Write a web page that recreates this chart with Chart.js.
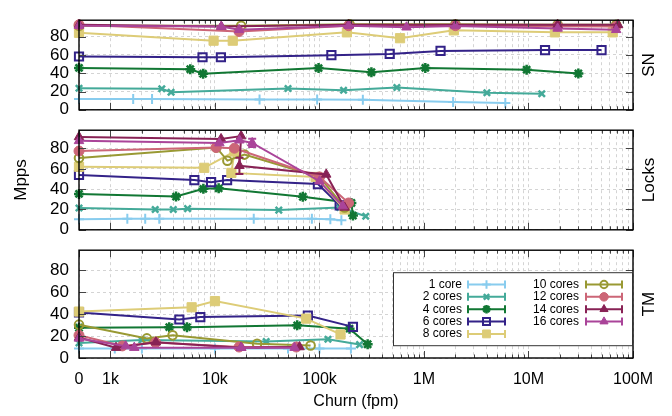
<!DOCTYPE html>
<html>
<head>
<meta charset="utf-8">
<title>Mpps vs churn</title>
<script src="https://cdn.jsdelivr.net/npm/chart.js@4.4.1/dist/chart.umd.min.js"></script>
<style>
  body { margin: 0; background: #fff; }
  #page { position: relative; width: 672px; height: 416px; overflow: hidden; }
  #page canvas { position: absolute; left: 0; }
</style>
</head>
<body>
<div id="page">
  <canvas id="snChart" width="672" height="130" style="top:0px"></canvas>
  <canvas id="locksChart" width="672" height="140" style="top:110px"></canvas>
  <canvas id="tmChart" width="672" height="186" style="top:230px"></canvas>
</div>
<script>
// ---- data ----
const seriesLabels = ['1 core', '2 cores', '4 cores', '6 cores', '8 cores', '10 cores', '12 cores', '14 cores', '16 cores'];

const xTickValues = [0, 1e3, 1e4, 1e5, 1e6, 1e7, 1e8];
const xTickLabels = ['0', '1k', '10k', '100k', '1M', '10M', '100M'];
const yTickValues = [0, 20, 40, 60, 80];

// SN panel (churn in fpm, throughput in Mpps)
const snChurn1 = [0, 1650, 2500, 26700, 95000, 260000, 1900000, 6000000];
const snMpps1 = [11.7, 11.7, 11.7, 11.2, 11.2, 11.0, 8.4, 7.5];
const snChurn2 = [0, 3100, 3800, 50000, 170000, 550000, 4000000, 13400000];
const snMpps2 = [23.6, 23, 19.2, 23.3, 21.4, 24.4, 18.6, 17.5];
const snChurn4 = [0, 5800, 7700, 98000, 314000, 1030000, 9600000, 30000000];
const snMpps4 = [45.8, 44.4, 39.4, 45.6, 41.1, 45.8, 43.9, 39.7];
const snChurn6 = [0, 7600, 11400, 130000, 470000, 1440000, 14400000, 50000000];
const snMpps6 = [58.3, 57.5, 57.5, 59.7, 61.1, 64.4, 65.3, 65.3];
const snChurn8 = [0, 9700, 14800, 183000, 590000, 1930000, 17900000, 64000000];
const snMpps8 = [84.2, 75.6, 75.6, 84.7, 78.3, 86.9, 84.7, 84.7];
const snChurn10 = [0, 17800, 194000, 2000000, 19000000, 69000000];
const snMpps10 = [92, 92, 93.5, 93.5, 93, 93];
const snChurn12 = [0, 17000, 190000, 2000000, 19000000, 69000000];
const snMpps12 = [93, 85.6, 92, 92, 91.5, 91];
const snChurn14 = [0, 11500, 190000, 2000000, 19000000, 72000000];
const snMpps14 = [93, 91, 93, 93, 93, 93];
const snChurn16 = [0, 11500, 17000, 190000, 680000, 2000000, 19000000, 69000000];
const snMpps16 = [92, 91, 87.5, 92, 90.3, 91.7, 89, 87.5];

// Locks panel
const lkChurn1 = [0, 1450, 2150, 2930, 23500, 84600, 127000, 162000];
const lkMpps1 = [10.3, 10.8, 10.8, 10.8, 10.8, 10.8, 10.3, 9.4];
const lkChurn2 = [0, 2680, 3990, 5470, 40800, 156000, 277000];
const lkMpps2 = [21.4, 20, 20, 20.8, 19.4, 21.9, 13.3];
const lkChurn4 = [0, 4240, 7740, 10850, 69300, 202000, 209000];
const lkMpps4 = [35.3, 32.7, 40.3, 40.8, 32.5, 26.4, 14];
const lkChurn6 = [0, 6350, 9180, 13060, 96600, 156000];
const lkMpps6 = [53.9, 48.9, 46.9, 48.9, 45, 24];
const lkChurn8 = [0, 7900, 15350, 14360, 91800, 174000];
const lkMpps8 = [62, 61, 77, 56, 52, 20];
const lkChurn10 = [0, 10300, 13150, 19140, 100000, 174000];
const lkMpps10 = [70.6, 81, 68, 74, 52, 22];
const lkChurn12 = [0, 10250, 15350, 100000, 190000];
const lkMpps12 = [77.5, 81, 80.3, 52, 26.4];
const lkChurn14 = [0, 11440, 17800, 17140, 116000, 174000];
const lkMpps14 = [91.4, 89.4, 92.2, 63, 54.5, 22];
const lkErr14 = [0, 0, 0, 8, 0, 0];
const lkChurn16 = [0, 11020, 17140, 22700, 100000, 167000];
const lkMpps16 = [87.5, 85.3, 88.1, 85.5, 47.8, 23.3];
const lkErr16 = [0, 0, 0, 4, 0, 0];

// TM panel
const tmChurn1 = [0, 1100, 2000, 10000, 50000, 100000, 200000];
const tmMpps1 = [8.6, 8.6, 8.6, 8.6, 8.6, 8.6, 8.6];
const tmChurn2 = [0, 2000, 30900, 120500, 242000];
const tmMpps2 = [13.6, 16.4, 15, 17, 12.2];
const tmChurn4 = [0, 3650, 5400, 61200, 194000, 289000];
const tmMpps4 = [27.5, 28, 28, 29.7, 26.7, 12.5];
const tmChurn6 = [0, 4560, 7240, 77400, 209000];
const tmMpps6 = [41.4, 35, 37.2, 38.6, 28.3];
const tmChurn8 = [0, 5980, 10000, 74700, 159000];
const tmMpps8 = [42.2, 46.1, 51.7, 35.8, 21.4];
const tmChurn10 = [0, 2230, 3930, 25300, 82200];
const tmMpps10 = [30.3, 17.8, 20.6, 13, 11.4];
const tmChurn12 = [0, 1300, 2700, 17000, 60000];
const tmMpps12 = [20.6, 11, 14, 10, 10];
const tmChurn14 = [0, 1130, 2720, 17800, 64500];
const tmMpps14 = [18.6, 9.4, 14.4, 9.4, 10];
const tmChurn16 = [0, 1400, 1690, 17800, 57700];
const tmMpps16 = [17.8, 10.8, 9.4, 9.4, 9.4];

// ---- styling ----
const ZERO_AT = 500; // the "0" churn column sits here on the log axis
const seriesColors = ['#88CCEE', '#44AA99', '#117733', '#332288', '#DDCC77', '#999933', '#CC6677', '#882255', '#AA4499'];
const seriesFills = ['#88CCEE', '#44AA99', '#117733', 'rgba(0,0,0,0)', '#DDCC77', 'rgba(0,0,0,0)', '#CC6677', '#882255', '#AA4499'];
const seriesMarkers = ['cross', 'crossRot', 'star', 'rect', 'rect', 'circle', 'circle', 'triangle', 'triangle'];
const markerRadius = [5, 4.5, 5, 5.8, 6.5, 4.3, 5, 5.5, 5.5];
const markerBorder = [2, 2.5, 2.5, 2, 1, 2, 1, 1, 1];

const fontFamily = '"Liberation Sans", Arial, Helvetica, sans-serif';
Chart.defaults.font.family = fontFamily;
Chart.defaults.color = '#000';

const xTickPositions = xTickValues.map(v => v === 0 ? ZERO_AT : v);
const xGridValues = [ZERO_AT];
for (let d = 1e3; d < 1e8; d *= 10) {
  for (let m = 1; m < 10; m++) xGridValues.push(m * d);
}
xGridValues.push(1e8);

function makeSets(churns, mpps, errs) {
  return seriesLabels.map((label, i) => ({
    label: label,
    data: churns[i].map((c, j) => ({ x: c === 0 ? ZERO_AT : c, y: mpps[i][j] })),
    errors: errs[i] || null,
    borderColor: seriesColors[i],
    backgroundColor: seriesFills[i],
    pointStyle: seriesMarkers[i],
    pointRadius: markerRadius[i],
    pointBorderWidth: markerBorder[i],
    borderWidth: 2,
    tension: 0,
    clip: false,
    order: -i
  }));
}

function drawErrorBars(chart) {
  const ctx = chart.ctx;
  const yScale = chart.scales.y;
  chart.data.datasets.forEach((ds, i) => {
    if (!ds.errors) return;
    const meta = chart.getDatasetMeta(i);
    ctx.save();
    ctx.strokeStyle = ds.borderColor;
    ctx.lineWidth = 2;
    ds.errors.forEach((e, j) => {
      if (!e) return;
      const px = meta.data[j].x;
      const y1 = yScale.getPixelForValue(ds.data[j].y + e);
      const y2 = yScale.getPixelForValue(ds.data[j].y - e);
      ctx.beginPath();
      ctx.moveTo(px, y1); ctx.lineTo(px, y2);
      ctx.moveTo(px - 4, y1); ctx.lineTo(px + 4, y1);
      ctx.moveTo(px - 4, y2); ctx.lineTo(px + 4, y2);
      ctx.stroke();
    });
    ctx.restore();
  });
}

function drawMarker(ctx, ds, x, y) {
  ctx.fillStyle = ds.backgroundColor;
  ctx.strokeStyle = ds.borderColor;
  ctx.lineWidth = ds.pointBorderWidth;
  Chart.helpers.drawPoint(ctx, {
    pointStyle: ds.pointStyle,
    radius: ds.pointRadius * 0.85,
    rotation: 0,
    borderWidth: ds.pointBorderWidth
  }, x, y);
}

function drawLegend(chart) {
  const ctx = chart.ctx;
  const area = chart.chartArea;
  const box = { left: 393, top: area.top + 22, right: area.right - 1, bottom: area.top + 95 };
  ctx.save();
  ctx.fillStyle = '#fff';
  ctx.fillRect(box.left, box.top, box.right - box.left, box.bottom - box.top);
  ctx.strokeStyle = '#333';
  ctx.lineWidth = 1;
  ctx.strokeRect(box.left + 0.5, box.top + 0.5, box.right - box.left, box.bottom - box.top);
  ctx.font = '12px ' + fontFamily;
  ctx.textAlign = 'right';
  ctx.textBaseline = 'middle';
  chart.data.datasets.forEach((ds, i) => {
    const col = i < 5 ? 0 : 1;
    const row = col ? i - 5 : i;
    const y = box.top + 12.3 + row * 12.35;
    const textRight = col ? 579 : 462;
    const s1 = col ? 586 : 468;
    const s2 = col ? 622 : 505;
    ctx.fillStyle = '#000';
    ctx.fillText(ds.label, textRight, y);
    ctx.strokeStyle = ds.borderColor;
    ctx.lineWidth = 2;
    ctx.beginPath();
    ctx.moveTo(s1, y); ctx.lineTo(s2, y);
    ctx.moveTo(s1, y - 4); ctx.lineTo(s1, y + 4);
    ctx.moveTo(s2, y - 4); ctx.lineTo(s2, y + 4);
    ctx.stroke();
    drawMarker(ctx, ds, (s1 + s2) / 2, y);
  });
  ctx.restore();
}

// frame, inward tick marks, panel name and legend, gnuplot style
const panelDecor = {
  id: 'panelDecor',
  afterDatasetsDraw(chart) {
    drawErrorBars(chart);
  },
  afterDraw(chart, args, opts) {
    const { ctx, chartArea: area, scales } = chart;
    ctx.save();
    ctx.strokeStyle = '#444';
    ctx.lineWidth = 1;
    ctx.beginPath();
    xGridValues.forEach(v => {
      const px = Math.round(scales.x.getPixelForValue(v)) + 0.5;
      const len = xTickPositions.includes(v) ? 7 : 3.5;
      ctx.moveTo(px, area.bottom); ctx.lineTo(px, area.bottom - len);
      ctx.moveTo(px, area.top); ctx.lineTo(px, area.top + len);
    });
    yTickValues.forEach(v => {
      const py = Math.round(scales.y.getPixelForValue(v)) + 0.5;
      ctx.moveTo(area.left, py); ctx.lineTo(area.left + 7, py);
      ctx.moveTo(area.right, py); ctx.lineTo(area.right - 7, py);
    });
    ctx.stroke();

    ctx.strokeStyle = '#000';
    ctx.lineWidth = 1.4;
    ctx.strokeRect(area.left, area.top, area.right - area.left, area.bottom - area.top);

    ctx.translate(649, (area.top + area.bottom) / 2);
    ctx.rotate(-Math.PI / 2);
    ctx.fillStyle = '#000';
    ctx.font = '17px ' + fontFamily;
    ctx.textAlign = 'center';
    ctx.textBaseline = 'middle';
    ctx.fillText(opts.name, 0, 0);
    ctx.restore();

    if (opts.legend) drawLegend(chart);
  }
};

function makePanel(canvasId, name, datasets, pad, showX) {
  return new Chart(document.getElementById(canvasId), {
    type: 'line',
    data: { datasets: datasets },
    plugins: [panelDecor],
    options: {
      responsive: false,
      animation: false,
      events: [],
      layout: { padding: { top: pad.top, bottom: pad.bottom, left: 0, right: 39 } },
      plugins: {
        legend: { display: false },
        tooltip: { enabled: false },
        panelDecor: { name: name, legend: showX }
      },
      scales: {
        x: {
          type: 'logarithmic',
          min: ZERO_AT,
          max: 1e8,
          afterBuildTicks: s => { s.ticks = xGridValues.map(v => ({ value: v })); },
          afterFit: s => { s.height = showX ? 58 : 0; },
          grid: { color: '#d4d4d4', lineWidth: 1, drawTicks: false },
          border: { display: false, dash: [3, 3] },
          ticks: {
            display: showX,
            autoSkip: false,
            maxRotation: 0,
            padding: 12,
            font: { size: 16 },
            callback: v => {
              const k = xTickPositions.indexOf(v);
              return k >= 0 ? xTickLabels[k] : '';
            }
          },
          title: {
            display: showX,
            text: 'Churn (fpm)',
            font: { size: 16 },
            padding: { top: 0, bottom: 5 }
          }
        },
        y: {
          type: 'linear',
          min: 0,
          max: 98,
          afterBuildTicks: s => { s.ticks = yTickValues.map(v => ({ value: v })); },
          afterFit: s => { s.width = 79; },
          grid: { color: '#d4d4d4', lineWidth: 1, drawTicks: false },
          border: { display: false, dash: [3, 3] },
          ticks: { padding: 10, font: { size: 17 } },
          title: {
            display: name === 'Locks',
            text: 'Mpps',
            font: { size: 17 },
            padding: { top: 11, bottom: 0 }
          }
        }
      }
    }
  });
}

makePanel('snChart', 'SN',
  makeSets(
    [snChurn1, snChurn2, snChurn4, snChurn6, snChurn8, snChurn10, snChurn12, snChurn14, snChurn16],
    [snMpps1, snMpps2, snMpps4, snMpps6, snMpps8, snMpps10, snMpps12, snMpps14, snMpps16],
    []),
  { top: 3, bottom: 10 }, false);

makePanel('locksChart', 'Locks',
  makeSets(
    [lkChurn1, lkChurn2, lkChurn4, lkChurn6, lkChurn8, lkChurn10, lkChurn12, lkChurn14, lkChurn16],
    [lkMpps1, lkMpps2, lkMpps4, lkMpps6, lkMpps8, lkMpps10, lkMpps12, lkMpps14, lkMpps16],
    [null, null, null, null, null, null, null, lkErr14, lkErr16]),
  { top: 10, bottom: 11 }, false);

makePanel('tmChart', 'TM',
  makeSets(
    [tmChurn1, tmChurn2, tmChurn4, tmChurn6, tmChurn8, tmChurn10, tmChurn12, tmChurn14, tmChurn16],
    [tmMpps1, tmMpps2, tmMpps4, tmMpps6, tmMpps8, tmMpps10, tmMpps12, tmMpps14, tmMpps16],
    []),
  { top: 10, bottom: 0 }, true);
</script>
</body>
</html>
